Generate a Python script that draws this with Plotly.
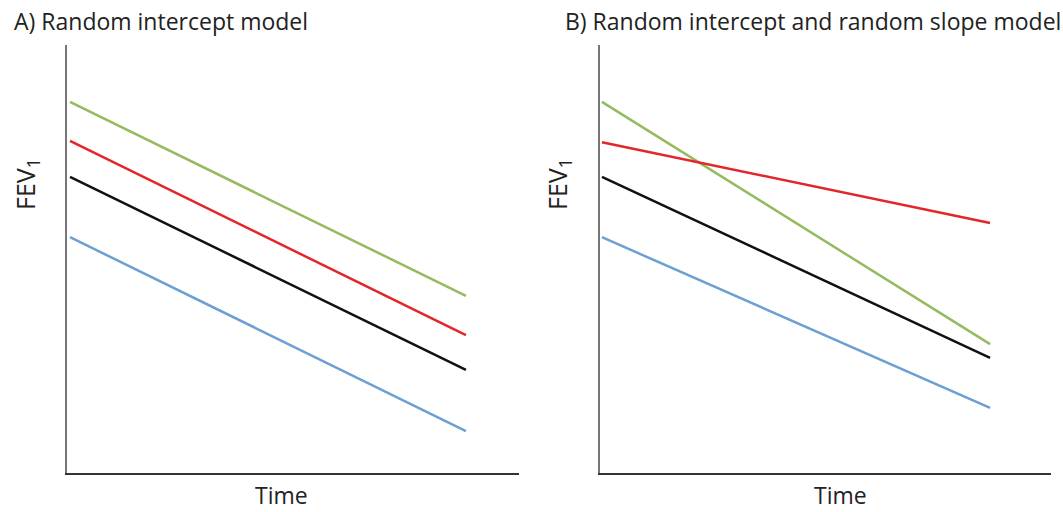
import plotly.graph_objects as go

W, H = 1063, 512

# Data (time from 0 to 10, FEV1 in arbitrary units)
time_pts = [0, 10]

# Panel A: random intercept model (parallel lines)
a_green = [86.7, 41.4]
a_red = [77.6, 32.2]
a_black = [69.2, 24.1]
a_blue = [55.1, 9.8]

# Panel B: random intercept and random slope model
b_green = [86.7, 30.1]
b_red = [77.3, 58.4]
b_black = [69.2, 26.9]
b_blue = [55.1, 15.2]

titles = ["A) Random intercept model", "B) Random intercept and random slope model"]
x_label = "Time"
y_label = "FEV<sub>1</sub>"

colors = {"green": "#95BA5F", "red": "#E3262A", "black": "#111111", "blue": "#6C9FD2"}

fig = go.Figure()

panels = [
    ("x", "y", [("green", a_green), ("red", a_red), ("black", a_black), ("blue", a_blue)]),
    ("x2", "y2", [("green", b_green), ("red", b_red), ("black", b_black), ("blue", b_blue)]),
]
for xa, ya, series in panels:
    for cname, vals in series:
        fig.add_trace(go.Scatter(x=time_pts, y=vals, mode="lines",
                                 line=dict(color=colors[cname], width=2.5),
                                 xaxis=xa, yaxis=ya, showlegend=False, hoverinfo="skip"))

ydom = [39 / H, 467 / H]
axis_common = dict(showgrid=False, zeroline=False, showticklabels=False, ticks="",
                   showline=True, fixedrange=True)
fig.update_layout(
    width=W, height=H,
    margin=dict(l=0, r=0, t=0, b=0),
    paper_bgcolor="white", plot_bgcolor="white",
    xaxis=dict(domain=[67 / W, 519 / W], range=[-0.076, 11.34], linecolor="#333333", linewidth=2, **axis_common),
    yaxis=dict(domain=ydom, range=[0, 100], linecolor="#777777", linewidth=2, **axis_common),
    xaxis2=dict(domain=[600 / W, 1051 / W], range=[-0.05, 11.57], anchor="y2", linecolor="#333333", linewidth=2, **axis_common),
    yaxis2=dict(domain=ydom, range=[0, 100], anchor="x2", linecolor="#777777", linewidth=2, **axis_common),
    font=dict(family="Open Sans, Calibri, Carlito, sans-serif", color="#222222", size=22),
)

ann = []
ann.append(dict(text=titles[0], x=12 / W, y=1 - 21 / H, xref="paper", yref="paper",
                xanchor="left", yanchor="middle", showarrow=False, font=dict(size=23)))
ann.append(dict(text=titles[1], x=563 / W, y=1 - 21 / H, xref="paper", yref="paper",
                xanchor="left", yanchor="middle", showarrow=False, font=dict(size=23)))
for cx in (281, 840):
    ann.append(dict(text=x_label, x=cx / W, y=1 - 495 / H, xref="paper", yref="paper",
                    xanchor="center", yanchor="middle", showarrow=False, font=dict(size=23),
                    borderpad=0))
for cx in (26, 558):
    ann.append(dict(text=y_label, x=cx / W, y=1 - 184 / H, xref="paper", yref="paper",
                    xanchor="center", yanchor="middle", showarrow=False, textangle=-90,
                    font=dict(size=25)))
fig.update_layout(annotations=ann)

fig.write_html("out.html")
